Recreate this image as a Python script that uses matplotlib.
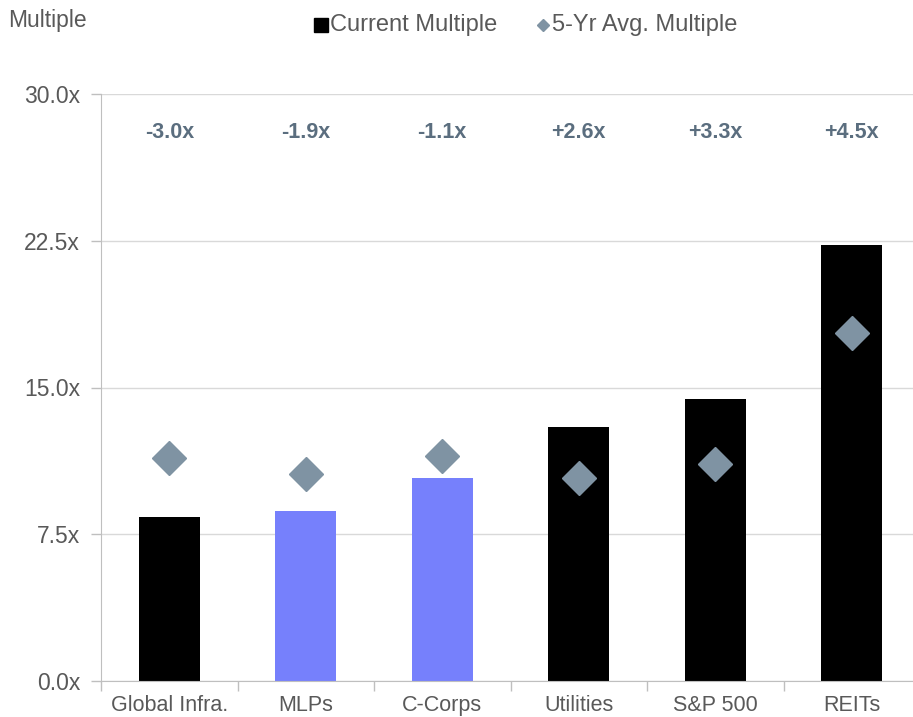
import matplotlib
matplotlib.use("Agg")
import matplotlib.pyplot as plt
from matplotlib.lines import Line2D

plt.rcParams['font.family'] = ['Liberation Sans', 'DejaVu Sans']

categories = ["Global Infra.", "MLPs", "C-Corps", "Utilities", "S&P 500", "REITs"]
current = [8.4, 8.7, 10.4, 13.0, 14.4, 22.3]
avg5 = [11.4, 10.6, 11.5, 10.4, 11.1, 17.8]
deltas = ["-3.0x", "-1.9x", "-1.1x", "+2.6x", "+3.3x", "+4.5x"]
bar_colors = ["#000000", "#7680FC", "#7680FC", "#000000", "#000000", "#000000"]
yticks = [0.0, 7.5, 15.0, 22.5, 30.0]

TXT = '#595959'
W, H = 913, 717
fig = plt.figure(figsize=(W/100, H/100), dpi=100)
left, right, bottom, top = 101, 920, 681, 94
ax = fig.add_axes([left/W, (H-bottom)/H, (right-left)/W, (bottom-top)/H])

x = list(range(len(categories)))
ax.bar(x, current, width=0.45, color=bar_colors, zorder=2)
ax.plot(x, avg5, linestyle='none', marker='D', ms=17.5, color='#7F93A3', zorder=3)

for xi, d in zip(x, deltas):
    ax.text(xi, 28.05, d, ha='center', va='center', fontsize=15.5, fontweight='bold', color='#5B6E7F')

ax.set_xlim(-0.5, len(categories)-0.5)
ax.set_ylim(0, 30)
ax.set_yticks(yticks)
ax.set_yticklabels([f"{v:.1f}x" for v in yticks], fontsize=16.5, color=TXT)
ax.yaxis.grid(True, color='#D9D9D9', linewidth=1)
ax.set_axisbelow(True)

ax.set_xticks(x)
ax.set_xticklabels(categories, fontsize=15.5, color=TXT)
ax.tick_params(axis='x', length=0, pad=10)
ax.set_xticks([i - 0.5 for i in range(len(categories)+1)], minor=True)
ax.tick_params(axis='x', which='minor', length=7, color='#BFBFBF', width=1)
ax.tick_params(axis='y', length=7, color='#BFBFBF', width=1, pad=8)

for s in ['top', 'right']:
    ax.spines[s].set_visible(False)
for s in ['left', 'bottom']:
    ax.spines[s].set_color('#BFBFBF')

fig.text(8/W, 1-21/H, "Multiple", fontsize=16.5, color=TXT, va='center', ha='left')

ly = 1 - 25/H
fig.add_artist(Line2D([320.5/W], [ly], transform=fig.transFigure, linestyle='none',
                      marker='s', ms=9.5, color='#000000'))
fig.text(330/W, ly, "Current Multiple", fontsize=17, color=TXT, va='center', ha='left')
fig.add_artist(Line2D([543/W], [ly], transform=fig.transFigure, linestyle='none',
                      marker='D', ms=6.5, color='#7F93A3'))
fig.text(552/W, ly, "5-Yr Avg. Multiple", fontsize=17, color=TXT, va='center', ha='left')

fig.savefig("out.png", dpi=100)
